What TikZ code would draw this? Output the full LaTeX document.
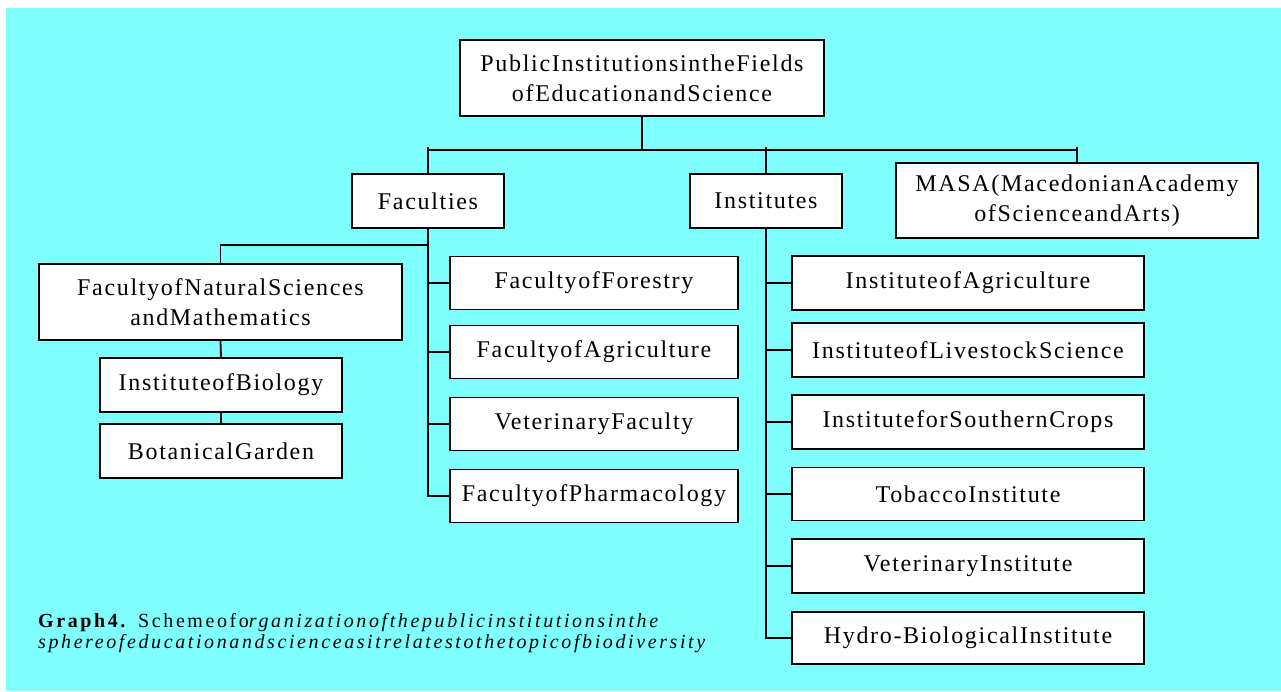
\documentclass[tikz,border=0pt]{standalone}
\usepackage{fontspec}
\setmainfont{Liberation Serif}[LetterSpace=7]
\newfontfamily\capfont{Liberation Serif}[LetterSpace=13]
\usepackage{tikz}
\usetikzlibrary{calc}

\definecolor{bgcyan}{RGB}{128,255,255}

\begin{document}
\begin{tikzpicture}[
    x=1pt, y=-1pt,
    unit/.style={rectangle, draw, fill=white, line width=1.8pt, align=center, inner sep=2pt, font=\fontsize{24}{30}\selectfont},
    link/.style={line width=1.8pt},
    caption/.style={anchor=base west, inner sep=0pt, font=\capfont\fontsize{20}{20}\selectfont}
]
% Background
\useasboundingbox (0,0) rectangle (1281,691);
\fill[bgcyan] (6,8) rectangle (1281,691);

% Top level
\node[unit, minimum width=364pt, minimum height=76pt] (top) at (642,78) {PublicInstitutionsintheFields\\ofEducationandScience};

% Second level
\node[unit, minimum width=152pt, minimum height=54pt] (fac) at (428,201) {Faculties};
\node[unit, minimum width=152pt, minimum height=54pt] (inst) at (766,201) {Institutes};
\node[unit, minimum width=362pt, minimum height=75pt] (masa) at (1077,200.5) {MASA(MacedonianAcademy\\ofScienceandArts)};

% Faculty of natural sciences branch
\node[unit, minimum width=363pt, minimum height=76pt] (fnsm) at (220.5,302) {FacultyofNaturalSciences\\andMathematics};
\node[unit, minimum width=242pt, minimum height=54pt] (iob) at (221,385) {InstituteofBiology};
\node[unit, minimum width=242pt, minimum height=54pt] (bg) at (221,451) {BotanicalGarden};

% Other faculties
\node[unit, minimum width=288pt, minimum height=53pt] (forest) at (594,283) {FacultyofForestry};
\node[unit, minimum width=288pt, minimum height=53pt] (fagri) at (594,352) {FacultyofAgriculture};
\node[unit, minimum width=288pt, minimum height=53pt] (vetfac) at (594,424) {VeterinaryFaculty};
\node[unit, minimum width=288pt, minimum height=53pt] (pharm) at (594,496) {FacultyofPharmacology};

% Institutes
\node[unit, minimum width=352pt, minimum height=54pt] (iagri) at (968,283) {InstituteofAgriculture};
\node[unit, minimum width=352pt, minimum height=54pt] (ilive) at (968,350) {InstituteofLivestockScience};
\node[unit, minimum width=352pt, minimum height=54pt] (icrop) at (968,422) {InstituteforSouthernCrops};
\node[unit, minimum width=352pt, minimum height=53pt] (itob) at (968,494) {TobaccoInstitute};
\node[unit, minimum width=352pt, minimum height=54pt] (ivet) at (968,566) {VeterinaryInstitute};
\node[unit, minimum width=352pt, minimum height=52pt] (ihydro) at (968,638) {Hydro-BiologicalInstitute};

% Connectors from the top
\coordinate (busL) at (428,150);
\coordinate (busR) at (1077,150);
\draw[link] (busL) -- (busR);
\draw[link] (top.south) -- (top.south |- busL);
\draw[link] (fac.north) -- ($(fac.north |- busL)+(0,-3)$);
\draw[link] (inst.north) -- ($(inst.north |- busL)+(0,-3)$);
\draw[link] (masa.north) -- ($(masa.north |- busL)+(0,-3)$);

% Faculties tree
\coordinate (fjoin) at ($(fac.south)+(0,16)$);
\draw[link] (fac.south) |- (pharm.west);
\foreach \f in {forest,fagri,vetfac}
  \draw[link] (fac.south |- \f.west) -- (\f.west);
\draw[link] (fnsm.north) |- (fjoin);
\draw[link] (fnsm.south) -- (iob.north);
\draw[link] (iob.south) -- (bg.north);

% Institutes tree
\draw[link] (inst.south) |- (ihydro.west);
\foreach \i in {iagri,ilive,icrop,itob,ivet}
  \draw[link] (inst.south |- \i.west) -- (\i.west);

% Caption
\node[caption] (cap1) at (38,627) {\textbf{Graph4.} Schemeofo\textit{rganizationofthepublicinstitutionsinthe}};
\node[caption] (cap2) at (38,648) {\textit{sphereofeducationandscienceasitrelatestothetopicofbiodiversity}};
\end{tikzpicture}
\end{document}
